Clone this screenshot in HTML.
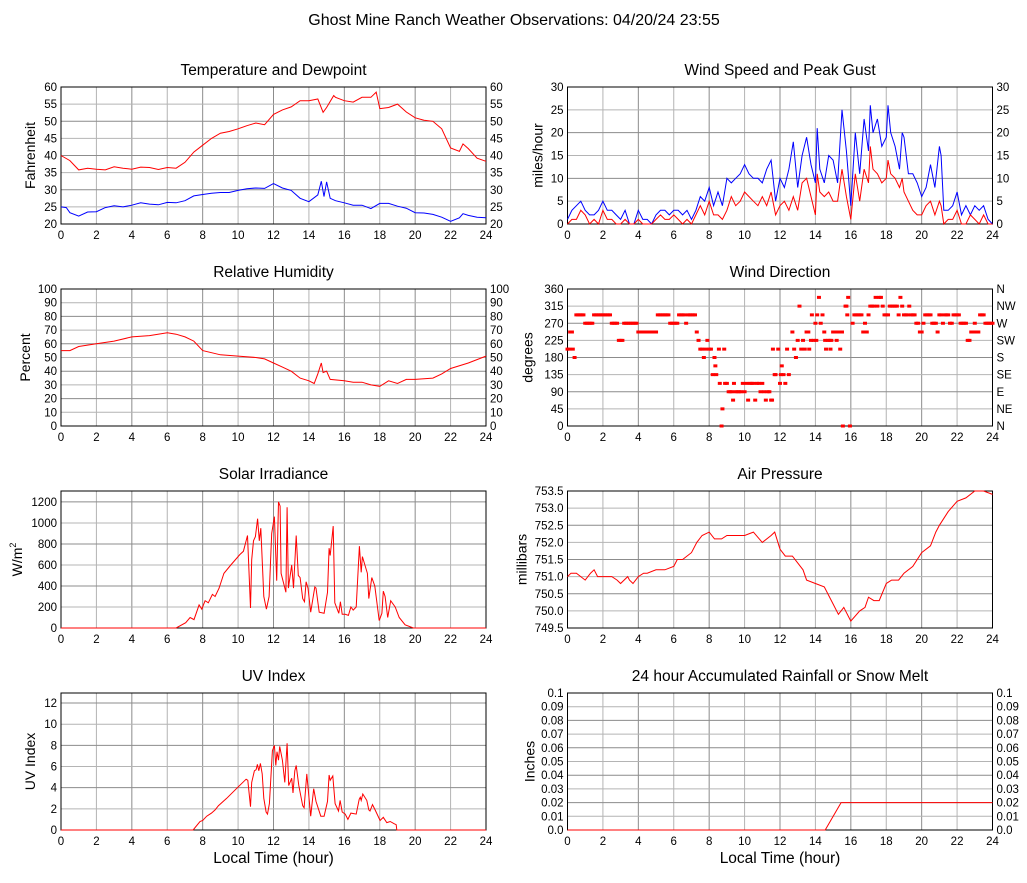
<!DOCTYPE html>
<html><head><meta charset="utf-8"><style>
body{margin:0;background:#fff;font-family:"Liberation Sans",sans-serif;}
svg text{font-family:"Liberation Sans",sans-serif;fill:#000;}
</style></head><body>
<svg id="chart" width="1027" height="878" xmlns="http://www.w3.org/2000/svg">
<text x="514" y="25" font-size="16" text-anchor="middle">Ghost Mine Ranch Weather Observations: 04/20/24 23:55</text>
</svg>
<script>
const tempHours=[0,.5,1,1.5,2,2.5,3,3.5,4,4.5,5,5.5,6,6.5,7,7.5,8,8.5,9,9.5,10,10.5,11,11.5,12,12.5,13,13.5,14,14.5,14.8,15,15.4,15.5,16,16.5,17,17.5,17.8,18,18.5,19,19.5,20,20.5,21,21.5,22,22.5,22.7,23,23.5,24];
const tempVals=[40,38.5,35.8,36.3,36,35.8,36.7,36.3,36,36.6,36.5,35.9,36.5,36.3,38,41,43,45,46.5,47,47.8,48.7,49.5,49,52,53.3,54.2,56,56,56.5,52.6,54,57.5,57,56,55.6,57,57,58.5,53.7,54,55,52.7,51,50.3,50,47.8,42.2,41.2,43.4,42,39.2,38.3];
const dewHours=[0,.3,.5,1,1.5,2,2.5,3,3.5,4,4.5,5,5.5,6,6.5,7,7.5,8,8.5,9,9.5,10,10.5,11,11.5,12,12.5,13,13.5,14,14.5,14.7,14.85,15,15.2,15.5,16,16.5,17,17.5,18,18.5,19,19.5,20,20.5,21,21.5,22,22.5,22.7,23,23.5,24];
const dewVals=[25,24.8,23.3,22.3,23.5,23.6,24.8,25.3,25,25.5,26.2,25.8,25.6,26.3,26.2,26.8,28.2,28.6,29,29.2,29.2,29.8,30.3,30.5,30.4,31.8,30.5,29.8,27.5,26.5,28.5,32.5,28,32.3,27.5,26.8,26.2,25.5,25.5,24.5,26,26,25.2,24.6,23.3,23.2,22.8,22,20.8,21.8,23,22.5,22,21.8];
const windHours=[0,.25,.5,.75,1,1.25,1.5,1.75,2,2.25,2.5,2.75,3,3.25,3.5,3.75,4,4.25,4.5,4.75,5,5.25,5.5,5.75,6,6.25,6.5,6.75,7,7.25,7.5,7.75,8,8.25,8.5,8.75,9,9.25,9.5,9.75,10,10.25,10.5,10.75,11,11.25,11.5,11.75,12,12.25,12.5,12.75,13,13.25,13.5,13.75,14,14.1,14.25,14.5,14.75,15,15.25,15.5,15.75,16,16.25,16.5,16.75,17,17.1,17.25,17.5,17.75,18,18.1,18.25,18.5,18.75,18.9,19,19.25,19.5,19.75,20,20.25,20.5,20.75,21,21.1,21.25,21.5,21.75,22,22.25,22.5,22.75,23,23.25,23.5,23.75,24];
const gustVals=[1,3,4,5,3,2,2,3,5,3,3,2,1,3,0,0,3,1,1,0,2,3,3,2,3,3,2,3,1,3,6,5,8,4,7,4,10,9,10,11,13,11,10,10,9,12,14,5,10,8,12,18,8,15,19,13,9,21,12,9,15,14,9,25,16,4,20,11,23,16,26,20,23,17,19,26,20,17,12,20,19,11,11,9,6,8,13,8,17,15,3,3,4,7,2,4,2,4,3,4,1,0];
const speedVals=[0,1,1,3,2,0,1,0,3,1,1,0,0,1,0,0,1,0,0,0,1,2,1,1,2,1,0,1,0,2,4,2,5,2,2,1,3,6,4,5,7,6,5,4,6,4,7,2,4,5,3,6,3,9,10,6,2,11,7,6,7,5,5,12,6,1,11,5,12,9,17,12,11,9,10,14,11,10,8,10,7,5,3,2,2,4,5,2,5,4,0,1,1,3,0,0,2,1,0,2,0,0];
const rhHours=[0,.5,1,2,3,4,5,6,6.5,7,7.5,8,9,10,11,11.5,12,12.5,13,13.5,14,14.3,14.5,14.7,14.8,15,15.2,16,16.5,17,17.5,18,18.5,19,19.5,20,21,21.5,22,23,24];
const rhVals=[55,55,58,60,62,65,66,68,67,65,62,55,52,51,50,49,46,43,40,35,33,31,38,46,39,40,34,33,32,32,30,29,33,31,34,34,35,38,42,46,51];
const dirHours=[0,.1,.15,.25,.3,.4,.5,.6,.7,.8,.9,1,1.1,1.2,1.3,1.4,1.5,1.6,1.7,1.8,1.9,2,2.1,2.2,2.3,2.4,2.5,2.6,2.7,2.8,2.9,3,3.1,3.2,3.3,3.4,3.5,3.6,3.7,3.8,3.9,4,4.1,4.2,4.3,4.4,4.5,4.6,4.7,4.8,4.9,5,5.1,5.2,5.3,5.4,5.5,5.6,5.7,5.8,5.9,6,6.1,6.2,6.3,6.4,6.5,6.6,6.7,6.8,6.9,7,7.1,7.2,7.3,7.4,7.5,7.6,7.7,7.8,7.9,8,8.1,8.2,8.3,8.35,8.4,8.55,8.6,8.7,8.75,8.85,8.9,9,9.1,9.2,9.3,9.35,9.4,9.5,9.6,9.7,9.8,9.9,10,10.1,10.2,10.3,10.4,10.5,10.6,10.7,10.8,10.9,11,11.1,11.2,11.3,11.4,11.5,11.55,11.6,11.7,11.75,11.9,12,12.05,12.1,12.2,12.3,12.4,12.5,12.7,12.8,12.9,13,13.1,13.2,13.3,13.4,13.5,13.6,13.65,13.75,13.8,13.9,14,14.05,14.1,14.2,14.3,14.4,14.5,14.55,14.6,14.7,14.8,14.85,14.9,15,15.1,15.2,15.3,15.4,15.5,15.55,15.7,15.75,15.8,15.85,15.95,16.1,16.2,16.3,16.4,16.5,16.6,16.7,16.75,16.8,16.9,17,17.1,17.2,17.3,17.4,17.5,17.6,17.7,17.8,17.9,18,18.1,18.2,18.3,18.4,18.5,18.6,18.7,18.8,18.9,19,19.1,19.2,19.3,19.4,19.5,19.6,19.7,19.8,19.9,20,20.1,20.2,20.3,20.4,20.5,20.6,20.7,20.8,20.9,21,21.1,21.2,21.3,21.4,21.5,21.6,21.7,21.8,21.9,22,22.1,22.2,22.3,22.4,22.5,22.6,22.7,22.8,22.9,23,23.1,23.2,23.3,23.4,23.5,23.6,23.7,23.8,23.9,24];
const dirVals=[202,202,247,247,202,180,292,292,292,292,292,270,270,270,270,270,292,292,292,292,292,292,292,292,292,292,270,270,270,270,225,225,225,270,270,270,270,270,270,270,270,247,247,247,247,247,247,247,247,247,247,247,292,292,292,292,292,292,292,270,270,270,270,270,292,292,292,292,270,292,292,292,292,292,247,225,202,202,180,202,225,202,202,135,180,158,135,202,112,0,45,202,112,112,90,90,90,68,112,90,90,90,90,112,90,112,68,112,112,112,68,112,112,90,112,90,68,90,90,68,68,202,135,135,202,112,135,158,135,112,202,135,247,202,180,225,315,202,225,202,247,247,202,225,292,225,270,225,292,338,270,292,247,225,202,225,225,202,225,247,247,225,247,202,247,0,315,315,292,338,0,270,292,292,292,292,292,247,247,270,247,292,315,315,315,338,315,338,338,315,292,292,292,315,315,315,315,315,292,338,315,292,292,292,315,292,292,292,270,270,247,247,270,292,292,292,292,270,270,270,247,292,292,270,292,292,292,270,270,292,292,292,292,270,270,270,270,225,225,247,247,270,247,247,292,292,292,270,270,270,270,270,270];
const solarHours=[0,6.5,7.04,7.29,7.51,7.8,7.95,8.14,8.32,8.55,8.7,8.93,9.2,9.59,10.1,10.3,10.53,10.7,10.77,10.87,10.98,11.1,11.2,11.28,11.45,11.6,11.75,11.9,12.05,12.18,12.28,12.37,12.43,12.7,12.77,12.84,13.03,13.13,13.28,13.4,13.5,13.65,13.75,13.84,13.95,14.1,14.33,14.4,14.58,14.86,15.05,15.14,15.2,15.37,15.46,15.69,15.78,15.88,16.05,16.23,16.37,16.5,16.67,16.85,16.95,17.02,17.3,17.38,17.55,17.72,17.97,18.12,18.2,18.3,18.45,18.62,18.87,19.1,19.43,19.9,24];
const solarVals=[0,0,50,100,80,220,180,260,240,320,300,380,520,600,700,730,880,190,650,830,870,1040,830,950,300,180,300,900,1060,450,1200,1160,520,340,1150,380,600,380,880,500,480,280,250,440,380,150,390,380,150,140,340,760,690,970,240,140,250,130,130,120,200,170,200,780,530,680,520,280,480,400,70,140,350,300,100,260,200,100,30,0,0];
const pressHours=[0,.2,.5,1,1.3,1.5,1.7,2.5,2.8,3,3.4,3.5,3.7,4,4.3,4.5,5,5.5,6,6.2,6.5,7,7.3,7.6,8,8.3,8.7,9,9.5,10,10.5,11,11.5,11.7,12,12.3,12.7,13,13.3,13.5,14,14.5,15,15.3,15.6,16,16.5,16.8,17,17.3,17.6,18,18.3,18.7,19,19.5,20,20.5,20.8,21,21.5,22,22.5,23,23.5,24];
const pressVals=[751.0,751.1,751.1,750.9,751.1,751.2,751.0,751.0,750.9,750.8,751.0,750.9,750.8,751.0,751.1,751.1,751.2,751.2,751.3,751.5,751.5,751.7,752.0,752.2,752.3,752.1,752.1,752.2,752.2,752.2,752.3,752.0,752.2,752.3,751.8,751.6,751.6,751.4,751.2,750.9,750.8,750.7,750.2,749.9,750.1,749.7,750.0,750.1,750.4,750.3,750.3,750.8,750.9,750.9,751.1,751.3,751.7,751.9,752.3,752.5,752.9,753.2,753.3,753.5,753.5,753.4];
const uvHours=[0,7.46,7.85,8.0,8.23,8.5,8.7,8.89,9.36,9.96,10.45,10.55,10.7,10.77,10.92,11.02,11.09,11.17,11.26,11.36,11.45,11.58,11.66,11.77,11.94,12.05,12.13,12.2,12.28,12.35,12.5,12.64,12.7,12.77,12.86,13.03,13.1,13.2,13.28,13.43,13.65,13.73,13.88,14.1,14.27,14.4,14.67,14.86,15.05,15.14,15.2,15.35,15.48,15.67,15.76,15.88,16.05,16.2,16.37,16.67,16.84,16.9,16.95,17.04,17.27,17.38,17.45,17.59,17.74,18.02,18.2,18.4,18.59,18.81,18.93,18.96,24];
const uvVals=[0,0,.8,.9,1.3,1.6,1.9,2.3,3.0,4.0,4.8,4.7,2.2,4.5,5.6,5.7,6.2,5.6,6.3,5.3,3,1.7,1.5,2.5,7.5,8,6.1,7.4,6.6,7.9,6.6,4.5,6.3,8.2,4.2,4.9,3.5,5.6,6.1,4.2,2.3,2.1,5.3,1.3,3.9,2.7,1.3,1.3,2.7,5.2,4.7,5.1,2.5,1.8,2.8,1.7,1.5,1.0,1.6,1.5,2.9,3.1,2.8,3.4,2.8,1.9,1.8,2.4,1.9,.9,1.2,.7,.8,.6,.5,0,0];
const rainHours=[0,14.55,15.45,24];
const rainVals=[0,0,0.02,0.02];
const hourTicks=[0,2,4,6,8,10,12,14,16,18,20,22,24];
const tempTicks=[20,25,30,35,40,45,50,55,60];
const windTicks=[0,5,10,15,20,25,30];
const rhTicks=[0,10,20,30,40,50,60,70,80,90,100];
const dirTicks=[0,45,90,135,180,225,270,315,360];
const dirCompass=['N','NE','E','SE','S','SW','W','NW','N'];
const solarTicks=[0,200,400,600,800,1000,1200];
const pressTicks=[749.5,750.0,750.5,751.0,751.5,752.0,752.5,753.0,753.5];
const uvTicks=[0,2,4,6,8,10,12];
const rainTicks=[0,0.01,0.02,0.03,0.04,0.05,0.06,0.07,0.08,0.09,0.1];
const rainTickLabels=['0.0','0.01','0.02','0.03','0.04','0.05','0.06','0.07','0.08','0.09','0.1'];

const NS='http://www.w3.org/2000/svg';
const svg=document.getElementById('chart');
function mk(tag,attrs,parent){const e=document.createElementNS(NS,tag);for(const k in attrs)e.setAttribute(k,attrs[k]);(parent||svg).appendChild(e);return e;}

function panel(c){
  const g=mk('g',{});
  
  
  const x0=c.x,x1=c.x+425,y0=c.y,y1=c.y+137;
  const sx=h=>x0+h/24*425;
  const sy=v=>y1-(v-c.min)/(c.max-c.min)*137;
  c.sx=sx;c.sy=sy;
  const t=mk('text',{x:(x0+x1)/2,y:y0-12,'font-size':15.5,'text-anchor':'middle'},g);
  t.textContent=c.title;
  
  
  hourTicks.forEach((h,i)=>{
    const l=mk('line',{x1:sx(h),x2:sx(h),y1:y0,y2:y1,stroke:(i%2?'#b4b4b4':'#8c8c8c'),'stroke-width':1},g);
    
    
    const tl=mk('text',{x:sx(h),y:y1+15,'font-size':11.5,'text-anchor':'middle'},g);
    tl.textContent=h;
    
    
  });
  c.ticks.forEach((v,i)=>{
    const y=sy(v);
    const l=mk('line',{x1:x0,x2:x1,y1:y,y2:y,stroke:(i%2?'#b4b4b4':'#8c8c8c'),'stroke-width':1},g);
    
    
    const lab=c.labels?c.labels[i]:String(v);
    const tl=mk('text',{x:x0-4,y:y+4,'font-size':11.5,'text-anchor':'end'},g);
    tl.textContent=lab;
    
    
    if(c.right){
      const tr=mk('text',{x:x1+4,y:y+4,'font-size':11.5,'text-anchor':'start'},g);
      tr.textContent=c.rightLabels?c.rightLabels[i]:lab;
      
      
    }
  });
  const fr=mk('rect',{x:x0,y:y0,width:425,height:137,fill:'none',stroke:'#000','stroke-width':1},g);
  
  
  const yl=mk('text',{x:0,y:0,'font-size':14,'text-anchor':'middle',transform:`translate(${x0-c.yoff},${(y0+y1)/2}) rotate(-90)`},g);
  
  
  if(c.ylabelSup){yl.textContent=c.ylabel;const ts=mk('tspan',{'font-size':9,dy:-6},yl);ts.textContent=c.ylabelSup;}
  else yl.textContent=c.ylabel;
  if(c.xlabel){
    const xl=mk('text',{x:(x0+x1)/2,y:y1+33,'font-size':15.5,'text-anchor':'middle'},g);
    xl.textContent='Local Time (hour)';
    
    
  }
  return g;
}
function line(c,hours,vals,color,name){
  const d=hours.map((h,i)=>(i?'L':'M')+c.sx(h).toFixed(1)+','+c.sy(vals[i]).toFixed(1)).join('');
  const p=mk('path',{d:d,fill:'none',stroke:color,'stroke-width':1});
  
  
}
const L=61,R=567.5;
const cT={name:'temperature',title:'Temperature and Dewpoint',x:L,y:87,min:20,max:60,ticks:tempTicks,right:true,ylabel:'Fahrenheit',yoff:26};
panel(cT);line(cT,tempHours,tempVals,'#ff0000','temperature-line');line(cT,dewHours,dewVals,'#0000ff','dewpoint-line');
const cW={name:'wind-speed',title:'Wind Speed and Peak Gust',x:R,y:87,min:0,max:30,ticks:windTicks,right:true,ylabel:'miles/hour',yoff:25};
panel(cW);line(cW,windHours,gustVals,'#0000ff','gust-line');line(cW,windHours,speedVals,'#ff0000','wind-speed-line');
const cH={name:'humidity',title:'Relative Humidity',x:L,y:289,min:0,max:100,ticks:rhTicks,right:true,ylabel:'Percent',yoff:31};
panel(cH);line(cH,rhHours,rhVals,'#ff0000','humidity-line');
const cD={name:'wind-direction',title:'Wind Direction',x:R,y:289,min:0,max:360,ticks:dirTicks,right:true,rightLabels:dirCompass,ylabel:'degrees',yoff:35};
panel(cD);
dirHours.forEach((h,i)=>{
  const r=mk('rect',{x:cD.sx(h)-2,y:cD.sy(dirVals[i])-1.5,width:4,height:3,fill:'#ff0000'});
  
  
});
const cS={name:'solar',title:'Solar Irradiance',x:L,y:491,min:0,max:1304,ticks:solarTicks,ylabel:'W/m',ylabelSup:'2',yoff:39};
panel(cS);line(cS,solarHours,solarVals,'#ff0000','solar-line');
const cP={name:'pressure',title:'Air Pressure',x:R,y:491,min:749.5,max:753.5,ticks:pressTicks,labels:pressTicks.map(v=>v.toFixed(1)),ylabel:'millibars',yoff:41};
panel(cP);line(cP,pressHours,pressVals,'#ff0000','pressure-line');
const cU={name:'uv',title:'UV Index',x:L,y:693,min:0,max:12.95,ticks:uvTicks,ylabel:'UV Index',yoff:26,xlabel:true};
panel(cU);line(cU,uvHours,uvVals,'#ff0000','uv-line');
const cR={name:'rainfall',title:'24 hour Accumulated Rainfall or Snow Melt',x:R,y:693,min:0,max:0.1,ticks:rainTicks,labels:rainTickLabels,right:true,ylabel:'Inches',yoff:33,xlabel:true};
panel(cR);line(cR,rainHours,rainVals,'#ff0000','rainfall-line');
</script>
</body></html>
